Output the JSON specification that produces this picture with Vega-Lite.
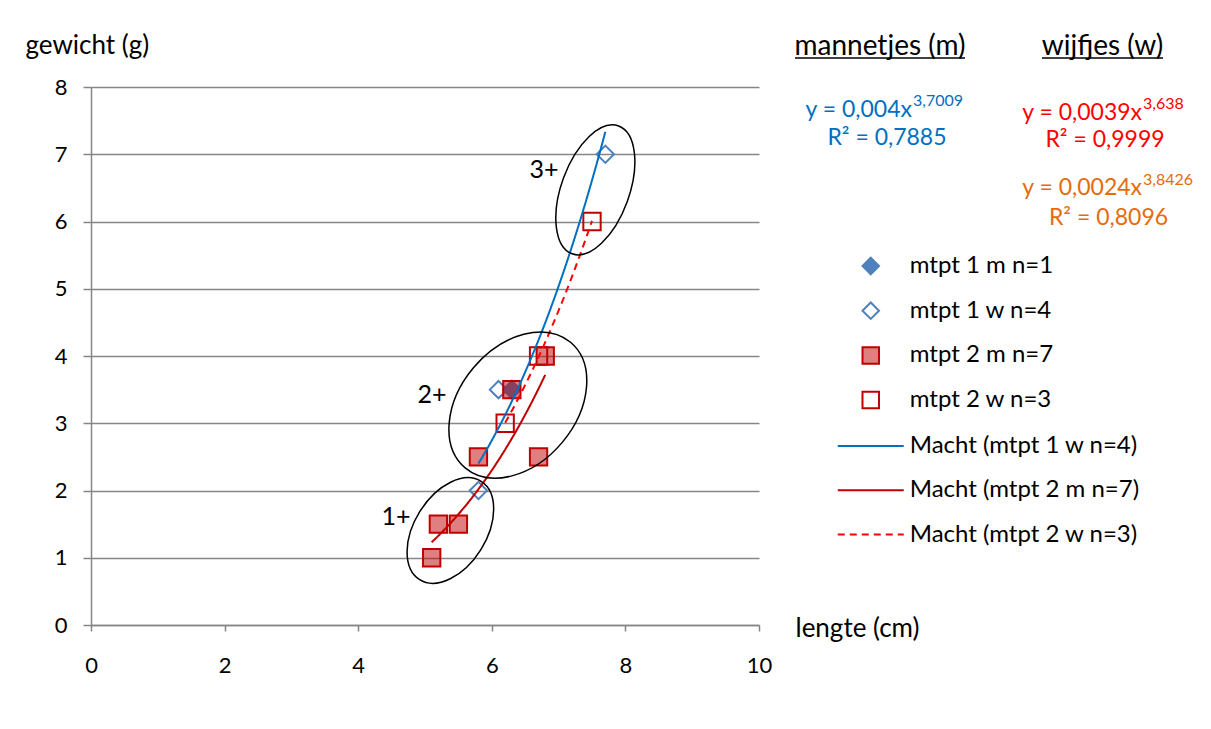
{
  "$schema": "https://vega.github.io/schema/vega-lite/v6.json",
  "width": 668,
  "height": 538,
  "autosize": {"type": "none"},
  "padding": {"left": 91, "top": 87, "right": 452, "bottom": 104},
  "background": "white",
  "config": {
    "font": "Lato",
    "view": {"stroke": null},
    "text": {"font": "Lato"}
  },
  "datasets": {
    "punten": [
      {"serie": "mtpt 1 m n=1", "lengte": 6.3, "gewicht": 3.5},
      {"serie": "mtpt 1 w n=4", "lengte": 5.8, "gewicht": 2.0},
      {"serie": "mtpt 1 w n=4", "lengte": 6.1, "gewicht": 3.5},
      {"serie": "mtpt 1 w n=4", "lengte": 6.3, "gewicht": 3.5},
      {"serie": "mtpt 1 w n=4", "lengte": 7.7, "gewicht": 7.0},
      {"serie": "mtpt 2 m n=7", "lengte": 5.1, "gewicht": 1.0},
      {"serie": "mtpt 2 m n=7", "lengte": 5.2, "gewicht": 1.5},
      {"serie": "mtpt 2 m n=7", "lengte": 5.5, "gewicht": 1.5},
      {"serie": "mtpt 2 m n=7", "lengte": 5.8, "gewicht": 2.5},
      {"serie": "mtpt 2 m n=7", "lengte": 6.3, "gewicht": 3.5},
      {"serie": "mtpt 2 m n=7", "lengte": 6.7, "gewicht": 2.5},
      {"serie": "mtpt 2 m n=7", "lengte": 6.8, "gewicht": 4.0},
      {"serie": "mtpt 2 w n=3", "lengte": 6.2, "gewicht": 3.0},
      {"serie": "mtpt 2 w n=3", "lengte": 6.7, "gewicht": 4.0},
      {"serie": "mtpt 2 w n=3", "lengte": 7.5, "gewicht": 6.0}
    ],
    "ellipsen": [
      {"groep": "1+", "lengte": 5.38, "gewicht": 1.405},
      {"groep": "2+", "lengte": 6.39, "gewicht": 3.27},
      {"groep": "3+", "lengte": 7.55, "gewicht": 6.47}
    ],
    "teksten": [
      {"tekst": "1+", "lengte": 4.566, "gewicht": 1.606, "soort": "cluster"},
      {"tekst": "2+", "lengte": 5.105, "gewicht": 3.42, "soort": "cluster"},
      {"tekst": "3+", "lengte": 6.781, "gewicht": 6.766, "soort": "cluster"},
      {"tekst": "mannetjes (m)", "lengte": 11.811, "gewicht": 8.595, "soort": "kop"},
      {"tekst": "wijfjes (w)", "lengte": 15.142, "gewicht": 8.595, "soort": "kop"},
      {"tekst": "y = 0,004x", "lengte": 12.29, "gewicht": 7.658, "soort": "vgl", "reeks": "m"},
      {"tekst": "3,7009", "lengte": 12.305, "gewicht": 7.792, "soort": "exp", "reeks": "m"},
      {"tekst": "R² = 0,7885", "lengte": 11.916, "gewicht": 7.242, "soort": "r2", "reeks": "m"},
      {"tekst": "y = 0,0039x", "lengte": 15.734, "gewicht": 7.613, "soort": "vgl", "reeks": "w"},
      {"tekst": "3,638", "lengte": 15.749, "gewicht": 7.747, "soort": "exp", "reeks": "w"},
      {"tekst": "R² = 0,9999", "lengte": 15.18, "gewicht": 7.212, "soort": "r2", "reeks": "w"},
      {"tekst": "y = 0,0024x", "lengte": 15.734, "gewicht": 6.498, "soort": "vgl", "reeks": "w2"},
      {"tekst": "3,8426", "lengte": 15.749, "gewicht": 6.617, "soort": "exp", "reeks": "w2"},
      {"tekst": "R² = 0,8096", "lengte": 15.232, "gewicht": 6.052, "soort": "r2", "reeks": "w2"}
    ],
    "lijnen": [
      {"lengte": 10.539, "lengte2": 13.084, "gewicht": 8.431},
      {"lengte": 14.237, "lengte2": 16.048, "gewicht": 8.431}
    ]
  },
  "layer": [
    {
      "data": {"name": "punten"},
      "mark": {"type": "point", "filled": true, "opacity": 1, "size": 300, "strokeWidth": 2},
      "encoding": {
        "x": {
          "field": "lengte", "type": "quantitative", "title": "lengte (cm)",
          "scale": {"domain": [0, 10], "nice": false, "zero": false},
          "axis": {
            "title": "lengte (cm)", "values": [0, 2, 4, 6, 8, 10], "format": "d", "grid": false, "labelFlush": false,
            "domainColor": "#868686", "domainWidth": 1.5, "tickColor": "#868686", "tickWidth": 1.5, "tickSize": 6,
            "labelFont": "Lato", "labelFontSize": 22, "labelColor": "black", "labelPadding": 24,
            "titleFont": "Lato", "titleFontSize": 26, "titleFontWeight": "normal", "titleColor": "black",
            "titleAngle": 0, "titleAlign": "left", "titleBaseline": "middle", "titleX": 704, "titleY": 3
          }
        },
        "y": {
          "field": "gewicht", "type": "quantitative", "title": "gewicht (g)",
          "scale": {"domain": [0, 8], "nice": false, "zero": false},
          "axis": {
            "title": "gewicht (g)", "values": [0, 1, 2, 3, 4, 5, 6, 7, 8], "format": "d", "grid": true, "labelFlush": false,
            "gridColor": "#868686", "gridWidth": 1.5,
            "domainColor": "#868686", "domainWidth": 1.5, "tickColor": "#868686", "tickWidth": 1.5, "tickSize": 8,
            "labelFont": "Lato", "labelFontSize": 22, "labelColor": "black", "labelPadding": 16,
            "titleFont": "Lato", "titleFontSize": 26, "titleFontWeight": "normal", "titleColor": "black",
            "titleAngle": 0, "titleAlign": "left", "titleBaseline": "middle", "titleX": -66, "titleY": -42
          }
        },
        "shape": {
          "field": "serie", "type": "nominal",
          "scale": {"domain": ["mtpt 1 m n=1", "mtpt 1 w n=4", "mtpt 2 m n=7", "mtpt 2 w n=3"], "range": ["diamond", "diamond", "square", "square"]},
          "legend": {"title": null, "orient": "none", "legendX": 767.75, "legendY": 167, "padding": 0, "symbolSize": 272, "symbolStrokeWidth": 2, "labelFont": "Lato", "labelFontSize": 24, "labelColor": "black", "labelOffset": 27, "rowPadding": 18.7, "labelLimit": 400}
        },
        "fill": {
          "field": "serie", "type": "nominal",
          "scale": {"domain": ["mtpt 1 m n=1", "mtpt 1 w n=4", "mtpt 2 m n=7", "mtpt 2 w n=3"], "range": ["#4F81BD", "transparent", "rgba(192,0,0,0.5)", "transparent"]},
          "legend": {"title": null, "orient": "none", "legendX": 767.75, "legendY": 167, "padding": 0, "symbolSize": 272, "symbolStrokeWidth": 2, "labelFont": "Lato", "labelFontSize": 24, "labelColor": "black", "labelOffset": 27, "rowPadding": 18.7, "labelLimit": 400}
        },
        "stroke": {
          "field": "serie", "type": "nominal",
          "scale": {"domain": ["mtpt 1 m n=1", "mtpt 1 w n=4", "mtpt 2 m n=7", "mtpt 2 w n=3"], "range": ["#4F81BD", "#4F81BD", "#C00000", "#C00000"]},
          "legend": {"title": null, "orient": "none", "legendX": 767.75, "legendY": 167, "padding": 0, "symbolSize": 272, "symbolStrokeWidth": 2, "labelFont": "Lato", "labelFontSize": 24, "labelColor": "black", "labelOffset": 27, "rowPadding": 18.7, "labelLimit": 400}
        }
      }
    },
    {
      "data": {"name": "punten"},
      "transform": [
        {"filter": "datum.serie != 'mtpt 1 m n=1'"},
        {"regression": "gewicht", "on": "lengte", "method": "pow", "groupby": ["serie"]}
      ],
      "mark": {"type": "line", "strokeWidth": 2},
      "encoding": {
        "x": {"field": "lengte", "type": "quantitative", "title": "lengte (cm)"},
        "y": {"field": "gewicht", "type": "quantitative", "title": "gewicht (g)"},
        "color": {
          "field": "serie", "type": "nominal",
          "scale": {"domain": ["mtpt 1 w n=4", "mtpt 2 m n=7", "mtpt 2 w n=3"], "range": ["#0070C0", "#C00000", "#FF0000"]},
          "legend": {"title": null, "orient": "none", "legendX": 767.75, "legendY": 347, "padding": 0, "symbolType": "M -4 0 L 4 0", "symbolSize": 272, "symbolStrokeWidth": 2, "labelFont": "Lato", "labelFontSize": 24, "labelColor": "black", "labelOffset": 27, "rowPadding": 20.3, "labelLimit": 400, "labelExpr": "'Macht (' + datum.label + ')'"}
        },
        "strokeDash": {
          "field": "serie", "type": "nominal",
          "scale": {"domain": ["mtpt 1 w n=4", "mtpt 2 m n=7", "mtpt 2 w n=3"], "range": [[1, 0], [1, 0], [7, 5]]},
          "legend": {"title": null, "orient": "none", "legendX": 767.75, "legendY": 347, "padding": 0, "symbolType": "M -4 0 L 4 0", "symbolSize": 272, "symbolStrokeWidth": 2, "labelFont": "Lato", "labelFontSize": 24, "labelColor": "black", "labelOffset": 27, "rowPadding": 20.3, "labelLimit": 400, "labelExpr": "'Macht (' + datum.label + ')'"}
        }
      }
    },
    {
      "data": {"name": "ellipsen"},
      "transform": [{"filter": "datum.groep == '1+'"}],
      "mark": {"type": "point", "shape": "M -1 0 A 1 0.62 0 1 0 1 0 A 1 0.62 0 1 0 -1 0 Z", "size": 13456, "angle": 302, "filled": false, "stroke": "black", "strokeWidth": 1.5, "opacity": 1},
      "encoding": {
        "x": {"field": "lengte", "type": "quantitative", "title": "lengte (cm)"},
        "y": {"field": "gewicht", "type": "quantitative", "title": "gewicht (g)"}
      }
    },
    {
      "data": {"name": "ellipsen"},
      "transform": [{"filter": "datum.groep == '2+'"}],
      "mark": {"type": "point", "shape": "M -1 0 A 1 0.707 0 1 0 1 0 A 1 0.707 0 1 0 -1 0 Z", "size": 26896, "angle": 310, "filled": false, "stroke": "black", "strokeWidth": 1.5, "opacity": 1},
      "encoding": {
        "x": {"field": "lengte", "type": "quantitative", "title": "lengte (cm)"},
        "y": {"field": "gewicht", "type": "quantitative", "title": "gewicht (g)"}
      }
    },
    {
      "data": {"name": "ellipsen"},
      "transform": [{"filter": "datum.groep == '3+'"}],
      "mark": {"type": "point", "shape": "M -1 0 A 1 0.5 0 1 0 1 0 A 1 0.5 0 1 0 -1 0 Z", "size": 18496, "angle": 290, "filled": false, "stroke": "black", "strokeWidth": 1.5, "opacity": 1},
      "encoding": {
        "x": {"field": "lengte", "type": "quantitative", "title": "lengte (cm)"},
        "y": {"field": "gewicht", "type": "quantitative", "title": "gewicht (g)"}
      }
    },
    {
      "data": {"name": "teksten"},
      "transform": [{"filter": "datum.soort == 'cluster'"}],
      "mark": {"type": "text", "font": "Lato", "fontSize": 25, "color": "black", "align": "center", "baseline": "middle"},
      "encoding": {
        "x": {"field": "lengte", "type": "quantitative", "title": "lengte (cm)"},
        "y": {"field": "gewicht", "type": "quantitative", "title": "gewicht (g)"},
        "text": {"field": "tekst"}
      }
    },
    {
      "data": {"name": "teksten"},
      "transform": [{"filter": "datum.soort == 'kop'"}],
      "mark": {"type": "text", "font": "Lato", "fontSize": 28, "color": "black", "align": "center", "baseline": "middle"},
      "encoding": {
        "x": {"field": "lengte", "type": "quantitative", "title": "lengte (cm)"},
        "y": {"field": "gewicht", "type": "quantitative", "title": "gewicht (g)"},
        "text": {"field": "tekst"}
      }
    },
    {
      "data": {"name": "teksten"},
      "transform": [{"filter": "datum.soort == 'vgl' && datum.reeks == 'm'"}],
      "mark": {"type": "text", "font": "Lato", "fontSize": 23, "color": "#0070C0", "align": "right", "baseline": "middle"},
      "encoding": {
        "x": {"field": "lengte", "type": "quantitative", "title": "lengte (cm)"},
        "y": {"field": "gewicht", "type": "quantitative", "title": "gewicht (g)"},
        "text": {"field": "tekst"}
      }
    },
    {
      "data": {"name": "teksten"},
      "transform": [{"filter": "datum.soort == 'exp' && datum.reeks == 'm'"}],
      "mark": {"type": "text", "font": "Lato", "fontSize": 16, "color": "#0070C0", "align": "left", "baseline": "middle"},
      "encoding": {
        "x": {"field": "lengte", "type": "quantitative", "title": "lengte (cm)"},
        "y": {"field": "gewicht", "type": "quantitative", "title": "gewicht (g)"},
        "text": {"field": "tekst"}
      }
    },
    {
      "data": {"name": "teksten"},
      "transform": [{"filter": "datum.soort == 'r2' && datum.reeks == 'm'"}],
      "mark": {"type": "text", "font": "Lato", "fontSize": 23, "color": "#0070C0", "align": "center", "baseline": "middle"},
      "encoding": {
        "x": {"field": "lengte", "type": "quantitative", "title": "lengte (cm)"},
        "y": {"field": "gewicht", "type": "quantitative", "title": "gewicht (g)"},
        "text": {"field": "tekst"}
      }
    },
    {
      "data": {"name": "teksten"},
      "transform": [{"filter": "datum.soort == 'vgl' && datum.reeks == 'w'"}],
      "mark": {"type": "text", "font": "Lato", "fontSize": 23, "color": "#FF0000", "align": "right", "baseline": "middle"},
      "encoding": {
        "x": {"field": "lengte", "type": "quantitative", "title": "lengte (cm)"},
        "y": {"field": "gewicht", "type": "quantitative", "title": "gewicht (g)"},
        "text": {"field": "tekst"}
      }
    },
    {
      "data": {"name": "teksten"},
      "transform": [{"filter": "datum.soort == 'exp' && datum.reeks == 'w'"}],
      "mark": {"type": "text", "font": "Lato", "fontSize": 16, "color": "#FF0000", "align": "left", "baseline": "middle"},
      "encoding": {
        "x": {"field": "lengte", "type": "quantitative", "title": "lengte (cm)"},
        "y": {"field": "gewicht", "type": "quantitative", "title": "gewicht (g)"},
        "text": {"field": "tekst"}
      }
    },
    {
      "data": {"name": "teksten"},
      "transform": [{"filter": "datum.soort == 'r2' && datum.reeks == 'w'"}],
      "mark": {"type": "text", "font": "Lato", "fontSize": 23, "color": "#FF0000", "align": "center", "baseline": "middle"},
      "encoding": {
        "x": {"field": "lengte", "type": "quantitative", "title": "lengte (cm)"},
        "y": {"field": "gewicht", "type": "quantitative", "title": "gewicht (g)"},
        "text": {"field": "tekst"}
      }
    },
    {
      "data": {"name": "teksten"},
      "transform": [{"filter": "datum.soort == 'vgl' && datum.reeks == 'w2'"}],
      "mark": {"type": "text", "font": "Lato", "fontSize": 23, "color": "#E46C0A", "align": "right", "baseline": "middle"},
      "encoding": {
        "x": {"field": "lengte", "type": "quantitative", "title": "lengte (cm)"},
        "y": {"field": "gewicht", "type": "quantitative", "title": "gewicht (g)"},
        "text": {"field": "tekst"}
      }
    },
    {
      "data": {"name": "teksten"},
      "transform": [{"filter": "datum.soort == 'exp' && datum.reeks == 'w2'"}],
      "mark": {"type": "text", "font": "Lato", "fontSize": 16, "color": "#E46C0A", "align": "left", "baseline": "middle"},
      "encoding": {
        "x": {"field": "lengte", "type": "quantitative", "title": "lengte (cm)"},
        "y": {"field": "gewicht", "type": "quantitative", "title": "gewicht (g)"},
        "text": {"field": "tekst"}
      }
    },
    {
      "data": {"name": "teksten"},
      "transform": [{"filter": "datum.soort == 'r2' && datum.reeks == 'w2'"}],
      "mark": {"type": "text", "font": "Lato", "fontSize": 23, "color": "#E46C0A", "align": "center", "baseline": "middle"},
      "encoding": {
        "x": {"field": "lengte", "type": "quantitative", "title": "lengte (cm)"},
        "y": {"field": "gewicht", "type": "quantitative", "title": "gewicht (g)"},
        "text": {"field": "tekst"}
      }
    },
    {
      "data": {"name": "lijnen"},
      "mark": {"type": "rule", "color": "black", "strokeWidth": 1.5},
      "encoding": {
        "x": {"field": "lengte", "type": "quantitative", "title": "lengte (cm)"},
        "x2": {"field": "lengte2"},
        "y": {"field": "gewicht", "type": "quantitative", "title": "gewicht (g)"}
      }
    }
  ]
}
